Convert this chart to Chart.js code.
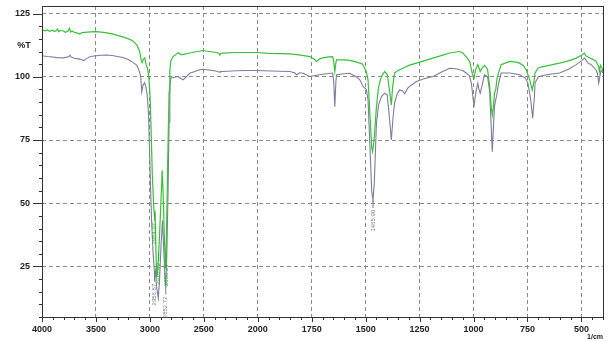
<!DOCTYPE html>
<html>
<head>
<meta charset="utf-8">
<script src="https://cdn.jsdelivr.net/npm/chart.js@4.4.0/dist/chart.umd.min.js"></script>
<style>
  html, body { margin: 0; padding: 0; background: #fff; }
</style>
</head>
<body>
<canvas id="irChart" width="610" height="342"></canvas>
<script>
// Axis labels (wavenumber axis is 500/div above 2000, 250/div below)
const xMajorTicks = [4000, 3500, 3000, 2500, 2000, 1750, 1500, 1250, 1000, 750, 500];
const yMajorTicks = [25, 50, 75, 100, 125];

// Green spectrum
const greenWave = [4000, 3970, 3950, 3930, 3900, 3885, 3870, 3855, 3845, 3830, 3800, 3785, 3760, 3745, 3735, 3720, 3700, 3670, 3650, 3630, 3600, 3550, 3500, 3450, 3400, 3350, 3300, 3250, 3200, 3160, 3120, 3095, 3080, 3072, 3060, 3048, 3035, 3020, 3008, 2998, 2988, 2978, 2966, 2958, 2953, 2947, 2940, 2935, 2926, 2912, 2898, 2886, 2878, 2868, 2858, 2853, 2846, 2838, 2831, 2822, 2815, 2805, 2785, 2738, 2706, 2630, 2560, 2509, 2450, 2383, 2360, 2352, 2345, 2324, 2200, 2100, 2012, 1950, 1900, 1852, 1800, 1759, 1740, 1728, 1715, 1699, 1670, 1653, 1648, 1643, 1638, 1635, 1600, 1574, 1540, 1514, 1497, 1489, 1480, 1472, 1468, 1462, 1450, 1440, 1427, 1412, 1400, 1390, 1381, 1375, 1366, 1350, 1327, 1300, 1265, 1230, 1188, 1150, 1111, 1080, 1065, 1050, 1042, 1030, 1018, 1005, 997, 990, 980, 969, 960, 949, 935, 925, 918, 913, 908, 903, 897, 890, 872, 850, 833, 800, 787, 770, 756, 740, 728, 720, 715, 700, 679, 650, 602, 560, 524, 500, 486, 478, 463, 445, 432, 420, 417, 412, 405, 400];
const greenT = [118.6, 118.2, 118.5, 118.0, 118.4, 117.9, 118.2, 118.9, 117.8, 118.3, 118.1, 117.6, 118.0, 119.2, 117.7, 118.1, 117.6, 117.3, 116.9, 117.5, 117.6, 117.8, 117.9, 117.7, 117.4, 117.0, 116.4, 115.8, 115.0, 114.3, 112.5, 110.0, 106.5, 105.6, 107.0, 107.5, 105.0, 103.0, 99.0, 92.0, 78.0, 62.0, 50.0, 45.0, 47.0, 38.0, 24.0, 20.8, 24.0, 36.0, 50.0, 63.0, 55.0, 40.0, 27.0, 24.5, 38.0, 58.0, 75.0, 94.0, 102.5, 106.5, 108.0, 109.5, 108.7, 109.4, 110.0, 110.4, 110.0, 109.6, 109.2, 108.6, 109.2, 109.4, 109.6, 109.6, 109.6, 109.3, 109.2, 109.1, 108.6, 108.0, 107.0, 106.1, 107.0, 107.5, 107.9, 108.0, 106.0, 102.1, 105.5, 106.7, 106.7, 106.5, 105.8, 105.0, 102.0, 98.8, 85.0, 72.0, 70.4, 74.0, 88.2, 96.0, 100.1, 102.1, 101.0, 95.0, 88.9, 96.0, 101.5, 102.5, 103.4, 104.5, 105.4, 106.3, 107.4, 108.4, 109.4, 109.8, 110.0, 109.5, 108.7, 107.5, 106.1, 101.0, 99.5, 103.0, 104.8, 102.1, 103.5, 104.5, 103.0, 96.0, 88.0, 84.9, 88.0, 93.5, 95.0, 100.0, 104.8, 105.5, 106.1, 105.8, 105.4, 104.5, 102.8, 99.0, 94.8, 98.0, 101.5, 103.5, 104.0, 104.5, 105.4, 106.3, 107.4, 108.5, 109.4, 108.2, 107.5, 106.8, 106.1, 104.0, 102.1, 104.5, 103.5, 102.0];

// Grey spectrum
const grayWave = [4000, 3950, 3900, 3860, 3800, 3750, 3740, 3730, 3700, 3650, 3610, 3590, 3550, 3500, 3450, 3400, 3350, 3300, 3250, 3200, 3160, 3120, 3100, 3085, 3075, 3065, 3050, 3040, 3025, 3012, 3006, 2995, 2984, 2970, 2955, 2948, 2938, 2922, 2910, 2896, 2883, 2874, 2862, 2852, 2843, 2831, 2822, 2815, 2805, 2787, 2741, 2692, 2630, 2537, 2509, 2400, 2350, 2345, 2324, 2200, 2100, 2012, 1900, 1852, 1830, 1820, 1805, 1790, 1760, 1700, 1653, 1648, 1643, 1638, 1635, 1600, 1574, 1540, 1527, 1512, 1497, 1489, 1480, 1472, 1466, 1460, 1450, 1440, 1427, 1412, 1400, 1392, 1381, 1373, 1366, 1355, 1343, 1330, 1319, 1305, 1296, 1265, 1230, 1188, 1150, 1111, 1080, 1065, 1050, 1034, 1020, 1010, 1000, 997, 992, 987, 980, 975, 969, 962, 949, 935, 925, 918, 913, 908, 903, 897, 892, 885, 872, 833, 787, 760, 748, 735, 726, 718, 715, 700, 663, 602, 560, 524, 500, 486, 470, 455, 432, 425, 420, 415, 409, 400];
const grayT = [108.3, 108.0, 107.8, 107.6, 107.5, 108.0, 108.5, 107.8, 107.3, 107.0, 106.4, 107.2, 108.0, 108.3, 108.5, 108.6, 108.4, 108.0, 107.6, 106.8, 105.8, 104.5, 102.5, 100.0, 94.0, 96.5, 97.6, 96.5, 93.0, 85.0, 75.0, 58.0, 43.0, 30.0, 21.0, 23.0, 17.0, 12.5, 20.0, 34.0, 43.3, 34.0, 22.0, 16.7, 30.0, 56.0, 82.0, 96.0, 99.6, 99.6, 100.1, 98.8, 101.4, 102.8, 103.0, 102.4, 101.8, 102.1, 102.1, 102.4, 102.5, 102.5, 102.2, 102.1, 101.6, 100.8, 101.6, 101.4, 100.1, 101.0, 101.5, 98.0, 88.2, 98.0, 100.8, 101.2, 101.4, 99.8, 98.8, 96.2, 95.0, 91.0, 72.0, 55.0, 51.2, 58.0, 81.6, 89.0, 92.2, 93.5, 92.8, 86.0, 75.0, 84.0, 89.6, 93.0, 94.8, 94.5, 93.3, 95.5, 96.2, 98.1, 99.2, 100.1, 101.8, 103.4, 103.2, 102.8, 102.5, 101.5, 100.5, 97.5, 90.0, 88.9, 92.0, 94.8, 97.5, 95.0, 93.5, 96.0, 100.8, 100.0, 94.0, 80.0, 70.4, 80.0, 88.2, 91.0, 92.9, 97.0, 101.5, 101.5, 100.8, 99.5, 97.5, 91.0, 83.6, 92.0, 97.5, 100.0, 100.8, 101.5, 103.0, 104.8, 106.3, 107.4, 105.5, 104.8, 102.8, 101.0, 97.5, 100.0, 102.5, 101.5];

// Peak annotations
const grayPeaks = [2956.87, 2852.72, 1465.90];
const greenPeaks = [2954.97, 2918.69, 2850.26];

const X_MIN_WAVE = 400;

function toU(w) { return w >= 2000 ? (4000 - w) / 500 : 4 + (2000 - w) / 250; }
function fromU(u) { return u <= 4 ? 4000 - u * 500 : 2000 - (u - 4) * 250; }
function isMajorU(u) { return Math.abs(u - Math.round(u)) < 1e-6; }

function series(waves, vals) {
  return waves.map((w, i) => ({ x: toU(w), y: vals[i] }));
}

function valueAt(waves, vals, w) {
  for (let i = 0; i < waves.length - 1; i++) {
    if (waves[i] >= w && waves[i + 1] <= w) {
      const f = (waves[i] - w) / (waves[i] - waves[i + 1]);
      return vals[i] + f * (vals[i + 1] - vals[i]);
    }
  }
  return vals[vals.length - 1];
}

const GREEN = '#38c038';
const GRAY = '#7c7c9e';
const TEXT = '#222';
const FONT = '"Liberation Sans", Arial, sans-serif';

// frame, tick marks, unit labels and peak labels
const irDecor = {
  id: 'irDecor',
  afterDraw(chart) {
    const { ctx, chartArea: a, scales: { x, y } } = chart;
    ctx.save();
    ctx.strokeStyle = '#333';
    ctx.lineWidth = 1;
    ctx.beginPath();
    x.ticks.forEach(t => {
      const px = Math.round(x.getPixelForValue(t.value)) + 0.5;
      ctx.moveTo(px, a.bottom);
      ctx.lineTo(px, a.bottom + (isMajorU(t.value) ? 5 : 3));
    });
    y.ticks.forEach(t => {
      const py = Math.round(y.getPixelForValue(t.value)) + 0.5;
      ctx.moveTo(a.left, py);
      ctx.lineTo(a.left - (yMajorTicks.includes(t.value) ? 9 : 3), py);
    });
    ctx.stroke();
    ctx.strokeRect(Math.round(a.left) + 0.5, Math.round(a.top) + 0.5,
      Math.round(a.right - a.left), Math.round(a.bottom - a.top));

    ctx.fillStyle = TEXT;
    ctx.font = 'bold 9px ' + FONT;
    ctx.textAlign = 'center';
    ctx.textBaseline = 'middle';
    ctx.fillText('%T', 24, y.getPixelForValue(112.5));
    ctx.font = 'bold 7px ' + FONT;
    ctx.textAlign = 'right';
    ctx.textBaseline = 'alphabetic';
    ctx.fillText('1/cm', a.right, chart.height - 3);

    const peakText = (waves, vals, peaks, color) => {
      ctx.fillStyle = color;
      ctx.strokeStyle = color;
      ctx.font = '6px ' + FONT;
      peaks.forEach(w => {
        const px = x.getPixelForValue(toU(w));
        const py = y.getPixelForValue(valueAt(waves, vals, w));
        ctx.beginPath();
        ctx.moveTo(px, py);
        ctx.lineTo(px, py + 8);
        ctx.stroke();
        ctx.save();
        ctx.translate(px, py + 10);
        ctx.rotate(-Math.PI / 2);
        ctx.textAlign = 'right';
        ctx.textBaseline = 'middle';
        ctx.fillText(w.toFixed(2), 0, 0);
        ctx.restore();
      });
    };
    peakText(grayWave, grayT, grayPeaks, GRAY);
    peakText(greenWave, greenT, greenPeaks, '#2faa2f');
    ctx.restore();
  }
};

const gridStyle = {
  drawTicks: false,
  color: c => (c.tick && c.tick.major) ? '#8a8a8a' : 'rgba(0,0,0,0)',
  lineWidth: c => (c.tick && c.tick.major) ? 1 : 0
};

function noPadding(s) {
  s.paddingTop = 0;
  s.paddingBottom = 0;
  s.paddingLeft = 0;
  s.paddingRight = 0;
}

new Chart(document.getElementById('irChart'), {
  type: 'line',
  data: {
    datasets: [
      { data: series(greenWave, greenT), borderColor: GREEN, borderWidth: 1.2 },
      { data: series(grayWave, grayT), borderColor: GRAY, borderWidth: 1.1 }
    ]
  },
  options: {
    responsive: false,
    animation: false,
    parsing: false,
    elements: { point: { radius: 0 }, line: { tension: 0 } },
    layout: { padding: { top: 6, right: 7, left: 0, bottom: 0 } },
    plugins: { legend: { display: false }, tooltip: { enabled: false } },
    scales: {
      x: {
        type: 'linear',
        min: 0,
        max: toU(X_MIN_WAVE),
        afterBuildTicks: s => {
          const ticks = [];
          for (let i = 0; i <= Math.round(toU(X_MIN_WAVE) * 5); i++) {
            ticks.push({ value: i / 5, major: i % 5 === 0 });
          }
          s.ticks = ticks;
        },
        afterFit: s => { s.height = 25; noPadding(s); },
        grid: gridStyle,
        border: { display: false, dash: [4, 3] },
        ticks: {
          autoSkip: false,
          maxRotation: 0,
          padding: 7,
          color: TEXT,
          font: { family: FONT, size: 9, weight: 'bold' },
          callback: v => {
            if (!isMajorU(v)) return '';
            const w = Math.round(fromU(v));
            return xMajorTicks.includes(w) ? String(w) : '';
          }
        }
      },
      y: {
        min: 5,
        max: 128,
        afterBuildTicks: s => {
          const ticks = [];
          for (let v = 5; v <= 125; v += 5) ticks.push({ value: v, major: yMajorTicks.includes(v) });
          s.ticks = ticks;
        },
        afterFit: s => { s.width = 42; noPadding(s); },
        grid: gridStyle,
        border: { display: false, dash: [4, 3] },
        ticks: {
          autoSkip: false,
          padding: 12,
          color: TEXT,
          font: { family: FONT, size: 9, weight: 'bold' },
          callback: v => yMajorTicks.includes(v) ? String(v) : ''
        }
      }
    }
  },
  plugins: [irDecor]
});
</script>
</body>
</html>
